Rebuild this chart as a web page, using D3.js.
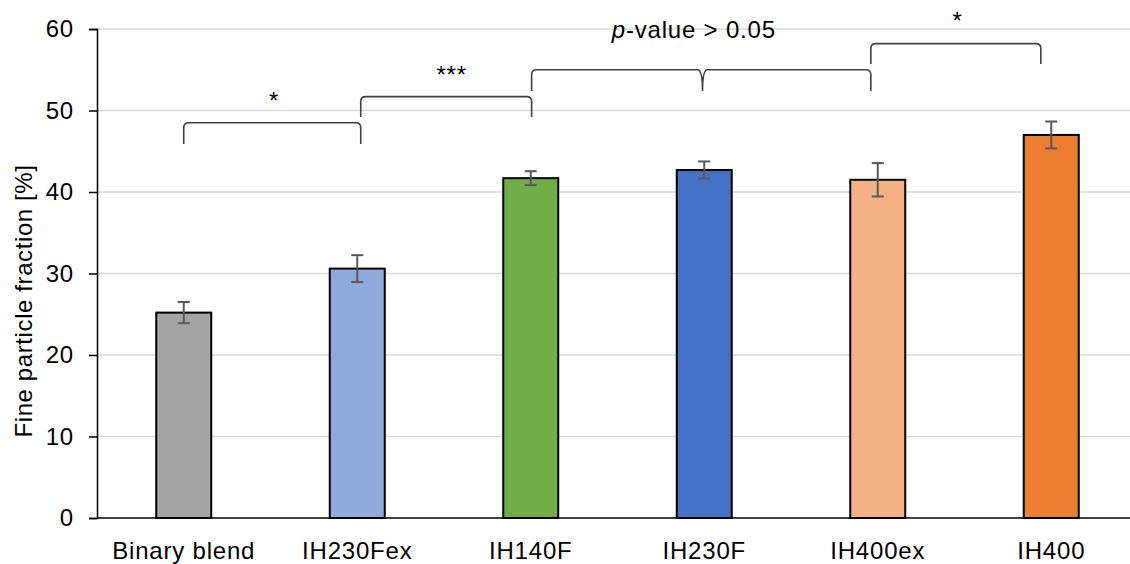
<!DOCTYPE html>
<html>
<head>
<meta charset="utf-8">
<script src="https://cdn.jsdelivr.net/npm/d3@7"></script>
<style>
  body { margin: 0; background: #fff; }
  text { font-family: "Liberation Sans", Arial, sans-serif; fill: #000; }
</style>
</head>
<body>
<div id="chart"></div>
<script>
// datos
const categorias = ["Binary blend", "IH230Fex", "IH140F", "IH230F", "IH400ex", "IH400"];
const valores = [25.2, 30.6, 41.7, 42.7, 41.5, 47.0];
const errores = [1.3, 1.65, 0.85, 1.05, 2.05, 1.65];
const colores = ["#a5a5a5", "#8faadc", "#70ad47", "#4472c4", "#f4b183", "#ed7d31"];
const ticksY = [0, 10, 20, 30, 40, 50, 60];

// corchetes: inicio / fin (indice de categoria), altura arriba y abajo (%), marca central opcional
const corchetes = [
  { x0: 0, x1: 1.02, yTop: 48.5, yEnd: 45.9 },
  { x0: 1.02, x1: 2.005, yTop: 51.7, yEnd: 49.2 },
  { x0: 2.005, x1: 3.96, yTop: 55.0, yEnd: 52.4, mid: 2.99 },
  { x0: 3.96, x1: 4.94, yTop: 58.2, yEnd: 55.7 }
];
const etiquetas = [
  { x: 0.52, y: 50.2, txt: "*" },
  { x: 1.544, y: 53.4, txt: "***" },
  { x: 4.46, y: 60.0, txt: "*" }
];
const pValor = { x: 2.94, y: 58.9 };

const W = 1130, H = 564;
const SVG = d3.select("#chart").append("svg")
  .attr("width", W)
  .attr("height", H);

const escalaX = d3.scaleBand()
  .domain(categorias)
  .range([97, 1138])
  .paddingInner(0.683)
  .paddingOuter(0.3415);

const escalaY = d3.scaleLinear()
  .domain([0, 60])
  .range([518, 29]);

// posicion x para indice fraccional de categoria
const paso = escalaX.step();
const centro0 = escalaX(categorias[0]) + escalaX.bandwidth() / 2;
const xIdx = i => centro0 + paso * i;

// grilla
SVG.append("g")
  .selectAll("line")
  .data(ticksY.filter(d => d > 0))
  .join("line")
  .attr("x1", 97).attr("x2", W)
  .attr("y1", d => escalaY(d)).attr("y2", d => escalaY(d))
  .attr("stroke", "#d9d9d9")
  .attr("stroke-width", 1.5);

// eje y
const ejeY = SVG.append("g")
  .attr("transform", "translate(97,0)")
  .call(d3.axisLeft(escalaY).tickValues(ticksY).tickSize(8).tickPadding(15).tickFormat(d3.format("d")));
ejeY.select(".domain").attr("stroke", "#000").attr("stroke-width", 1.5);
ejeY.selectAll(".tick line").attr("stroke", "#000").attr("stroke-width", 1.5);
ejeY.selectAll(".tick text")
  .style("font-size", "24px")
  .style("letter-spacing", "0.8px")
  .attr("fill", "#000");

// barras
SVG.append("g")
  .selectAll("rect")
  .data(categorias)
  .join("rect")
  .attr("x", d => escalaX(d))
  .attr("width", escalaX.bandwidth())
  .attr("y", (d, i) => escalaY(valores[i]))
  .attr("height", (d, i) => escalaY(0) - escalaY(valores[i]))
  .attr("fill", (d, i) => colores[i])
  .attr("stroke", "#000")
  .attr("stroke-width", 2);

// eje x
const ejeX = SVG.append("g")
  .attr("transform", `translate(0,${escalaY(0)})`)
  .call(d3.axisBottom(escalaX).tickSize(0).tickPadding(24));
ejeX.select(".domain").attr("stroke", "#000").attr("stroke-width", 1.5)
  .attr("d", `M97,0H${W}`);
ejeX.selectAll(".tick text")
  .style("font-size", "24px")
  .style("letter-spacing", "0.8px")
  .attr("fill", "#000");

// barras de error
const errG = SVG.append("g")
  .selectAll("g")
  .data(categorias)
  .join("g")
  .attr("stroke", "#595959")
  .attr("stroke-width", 2);
const cx = d => escalaX(d) + escalaX.bandwidth() / 2;
errG.append("line")
  .attr("x1", cx).attr("x2", cx)
  .attr("y1", (d, i) => escalaY(valores[i] + errores[i]))
  .attr("y2", (d, i) => escalaY(valores[i] - errores[i]));
errG.append("line")
  .attr("x1", d => cx(d) - 6).attr("x2", d => cx(d) + 6)
  .attr("y1", (d, i) => escalaY(valores[i] + errores[i]))
  .attr("y2", (d, i) => escalaY(valores[i] + errores[i]));
errG.append("line")
  .attr("x1", d => cx(d) - 6).attr("x2", d => cx(d) + 6)
  .attr("y1", (d, i) => escalaY(valores[i] - errores[i]))
  .attr("y2", (d, i) => escalaY(valores[i] - errores[i]));

// corchetes de significancia
const r = 5;
const pathCorchete = c => {
  const a = xIdx(c.x0), b = xIdx(c.x1);
  const t = escalaY(c.yTop), e = escalaY(c.yEnd);
  let p = `M${a},${e}L${a},${t + r}Q${a},${t} ${a + r},${t}`;
  if (c.mid !== undefined) {
    const m = xIdx(c.mid);
    p += `L${m - r},${t}Q${m},${t} ${m},${e}Q${m},${t} ${m + r},${t}`;
  }
  p += `L${b - r},${t}Q${b},${t} ${b},${t + r}L${b},${e}`;
  return p;
};
SVG.append("g")
  .selectAll("path")
  .data(corchetes)
  .join("path")
  .attr("d", pathCorchete)
  .attr("fill", "none")
  .attr("stroke", "#404040")
  .attr("stroke-width", 1.6);

SVG.append("g")
  .selectAll("text")
  .data(etiquetas)
  .join("text")
  .attr("x", d => xIdx(d.x))
  .attr("y", d => escalaY(d.y))
  .attr("text-anchor", "middle")
  .style("font-size", "24px")
  .style("letter-spacing", "0.8px")
  .text(d => d.txt);

const pTxt = SVG.append("text")
  .attr("x", xIdx(pValor.x))
  .attr("y", escalaY(pValor.y))
  .attr("text-anchor", "middle")
  .style("font-size", "24px")
  .style("letter-spacing", "0.8px");
pTxt.append("tspan").style("font-style", "italic").text("p");
pTxt.append("tspan").text("-value > 0.05");

// titulo eje y
SVG.append("text")
  .attr("transform", "translate(32,301) rotate(-90)")
  .attr("text-anchor", "middle")
  .style("font-size", "24px")
  .style("letter-spacing", "0.6px")
  .text("Fine particle fraction [%]");
</script>
</body>
</html>
